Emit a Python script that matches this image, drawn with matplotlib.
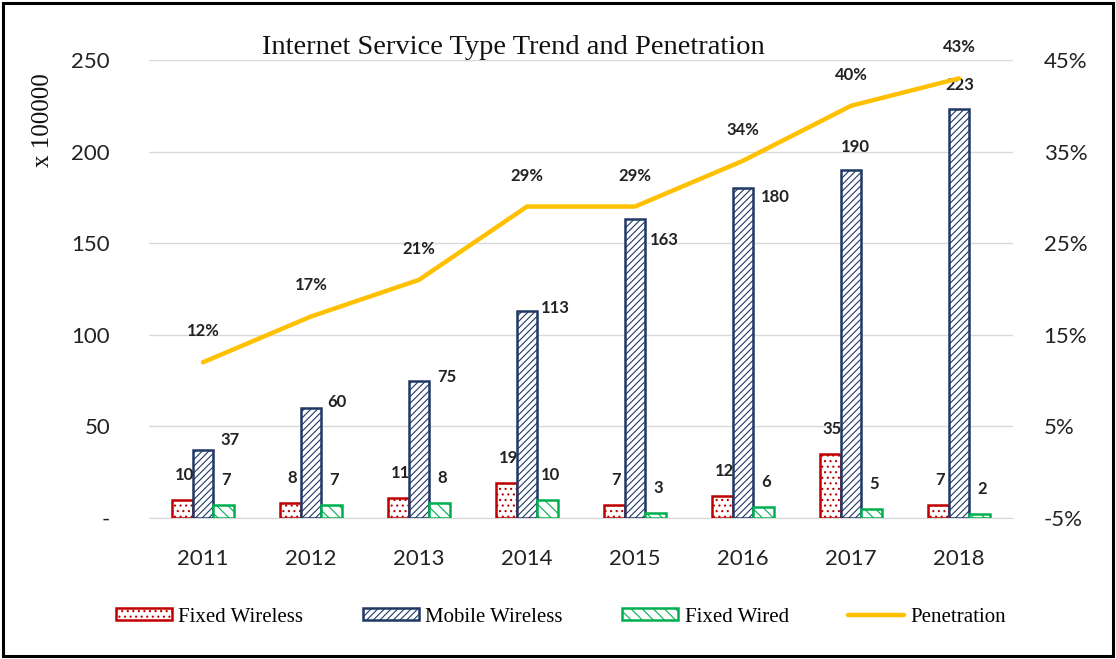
import numpy as np
import matplotlib.pyplot as plt
from matplotlib.patches import Rectangle
from matplotlib.lines import Line2D

years = ['2011', '2012', '2013', '2014', '2015', '2016', '2017', '2018']
fixed_wireless = [10, 8, 11, 19, 7, 12, 35, 7]
mobile_wireless = [37, 60, 75, 113, 163, 180, 190, 223]
fixed_wired = [7, 7, 8, 10, 3, 6, 5, 2]
penetration = [12, 17, 21, 29, 29, 34, 40, 43]

# label offsets for the mobile bars (px right, px up), placed by hand in the original
mob_off = [(27, 10), (26, 6), (28, 4), (28, 3), (29, -21), (32, -9), (4, 23), (1, 24)]

RED = '#C00000'
BLUE = '#1F3864'
GREEN = '#00B050'
GOLD = '#FFC000'

plt.rcParams['hatch.linewidth'] = 0.8
serif = 'Liberation Serif'
sans = 'Lato'

fig = plt.figure(figsize=(11.16, 6.59), dpi=100)
ax = fig.add_axes([149 / 1116, 1 - 518 / 659, 864 / 1116, 458 / 659])
ax2 = ax.twinx()

x = np.arange(len(years))
w = 0.19
ax.bar(x - w, fixed_wireless, w, facecolor='white', edgecolor=RED, hatch='...', linewidth=1.8, zorder=3)
ax.bar(x, mobile_wireless, w, facecolor='white', edgecolor=BLUE, hatch='/////', linewidth=1.8, zorder=3)
ax.bar(x + w, fixed_wired, w, facecolor='white', edgecolor=GREEN, hatch='\\\\\\', linewidth=1.8, zorder=3)

ax2.plot(x, penetration, color=GOLD, lw=3.2, solid_capstyle='round', zorder=4)

px = 0.72  # points per pixel
lab = dict(fontsize=12, fontweight='bold', family=sans, color='#222222',
           ha='center', va='center', textcoords='offset points')
for i in range(len(years)):
    ax.annotate(str(fixed_wireless[i]), (x[i] - w, fixed_wireless[i]), xytext=(2 * px, 25 * px), **lab)
    dx, dy = mob_off[i]
    ax.annotate(str(mobile_wireless[i]), (x[i], mobile_wireless[i]), xytext=(dx * px, dy * px), **lab)
    ax.annotate(str(fixed_wired[i]), (x[i] + w, fixed_wired[i]), xytext=(3 * px, 25 * px), **lab)
    ax2.annotate(f'{penetration[i]}%', (x[i], penetration[i]), xytext=(0, 31 * px), **lab)

ax.set_xlim(-0.5, 7.5)
ax.set_ylim(0, 250)
ax2.set_ylim(-5, 45)
ax.set_yticks([0, 50, 100, 150, 200, 250])
ax.set_yticklabels(['-', '50', '100', '150', '200', '250'])
ax2.set_yticks([-5, 5, 15, 25, 35, 45])
ax2.set_yticklabels(['-5%', '5%', '15%', '25%', '35%', '45%'])
ax.set_xticks(x)
ax.set_xticklabels(years)

for a in (ax, ax2):
    for s in a.spines.values():
        s.set_visible(False)
ax.spines['bottom'].set_visible(True)
ax.spines['bottom'].set_color('#d9d9d9')
ax.tick_params(axis='both', length=0, labelsize=16, colors='#222222')
ax.tick_params(axis='y', pad=28)
ax.tick_params(axis='x', pad=22)
ax2.tick_params(axis='y', length=0, labelsize=16, colors='#222222', pad=22)
for t in ax.get_xticklabels() + ax.get_yticklabels() + ax2.get_yticklabels():
    t.set_family(sans)
ax.grid(axis='y', color='#d9d9d9', lw=1, zorder=0)
ax.set_axisbelow(True)

fig.text(513 / 1116, 1 - 47 / 659, 'Internet Service Type Trend and Penetration',
         family=serif, fontsize=20.5, ha='center', va='center', color='#111111')
fig.text(43 / 1116, 1 - 120 / 659, 'x 100000', family=serif, fontsize=18,
         rotation=90, ha='center', va='center', color='#111111')

handles = [
    Rectangle((0, 0), 1, 1, facecolor='white', edgecolor=RED, hatch='...', lw=1.8),
    Rectangle((0, 0), 1, 1, facecolor='white', edgecolor=BLUE, hatch='/////', lw=1.8),
    Rectangle((0, 0), 1, 1, facecolor='white', edgecolor=GREEN, hatch='\\\\\\', lw=1.8),
    Line2D([], [], color=GOLD, lw=3.2, solid_capstyle='round'),
]
fig.legend(handles, ['Fixed Wireless', 'Mobile Wireless', 'Fixed Wired', 'Penetration'],
           loc='center', bbox_to_anchor=(561 / 1116, 1 - 617 / 659), ncol=4, frameon=False,
           prop={'family': serif, 'size': 15}, handlelength=2.7, handleheight=0.5,
           handletextpad=0.3, columnspacing=2.85)

fig.patches.append(Rectangle((0.003, 0.005), 0.994, 0.99, transform=fig.transFigure,
                             fill=False, edgecolor='black', lw=2.2))

fig.savefig('out.png', dpi=100)
